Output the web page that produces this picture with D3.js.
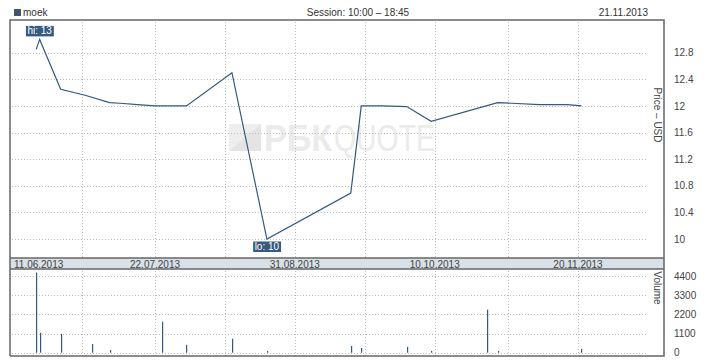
<!DOCTYPE html>
<html>
<head>
<meta charset="utf-8">
<script src="https://cdnjs.cloudflare.com/ajax/libs/d3/7.8.5/d3.min.js"></script>
<style>
  html, body { margin: 0; padding: 0; background: #fff; }
  svg { display: block; }
  text { font-family: "Liberation Sans", Arial, sans-serif; }
</style>
</head>
<body>
<svg id="chart" width="718" height="360"></svg>
<script>
// ---- data ----
const ticker = "moek";
const sessionText = "Session: 10:00 \u2013 18:45";
const dateText = "21.11.2013";

const priceDates = ["2013-06-18","2013-06-19","2013-06-25","2013-07-02","2013-07-09","2013-07-12","2013-07-17","2013-07-22","2013-07-31","2013-08-13","2013-08-23","2013-09-16","2013-09-19","2013-09-25","2013-10-02","2013-10-09","2013-10-28","2013-11-01","2013-11-09","2013-11-17","2013-11-21"];
const priceValues = [12.85,13.0,12.25,12.16,12.05,12.04,12.02,12.0,12.0,12.5,10.0,10.69,12.0,12.0,11.99,11.77,12.05,12.04,12.02,12.02,12.0];

const volumeDates = ["2013-06-18","2013-06-19","2013-06-25","2013-07-04","2013-07-09","2013-07-24","2013-07-31","2013-08-13","2013-08-23","2013-09-16","2013-09-19","2013-10-02","2013-10-09","2013-10-25","2013-10-28","2013-11-21"];
const volumeValues = [4600,1140,1080,500,150,1780,450,800,100,390,270,330,100,2470,100,210];

const gridDates = ["2013-07-01","2013-07-22","2013-08-11","2013-08-31","2013-09-20","2013-10-10","2013-10-31","2013-11-20"];
const labelDates = ["2013-06-11","2013-07-22","2013-08-31","2013-10-10","2013-11-20"];
const priceTicks = [10,10.4,10.8,11.2,11.6,12,12.4,12.8];
const volumeTicks = [0,1100,2200,3300,4400];
const hiLabel = "hi: 13";
const loLabel = "lo: 10";

// ---- setup ----
const parse = d3.utcParse("%Y-%m-%d");
const fmt = d3.utcFormat("%d.%m.%Y");
const svg = d3.select("#chart");
const C = { line: "#34587f", frame: "#666", grid: "#bdbdbd", text: "#444" };

const L = 10, R = 664, T = 20, bandTop = 258, bandBot = 269, B = 356, gridRight = 648;

const x = d3.scaleUtc().domain([parse("2013-06-11"), parse("2013-11-20")]).range([11.7, 578]);
const yP = d3.scaleLinear().domain([10, 12.8]).range([239, 52.7]);
const yV = d3.scaleLinear().domain([0, 4400]).range([352.7, 276]);

const prices = priceDates.map((d, i) => ({ date: parse(d), v: priceValues[i] }));
const vols = volumeDates.map((d, i) => ({ date: parse(d), v: volumeValues[i] }));

// header
svg.append("rect").attr("x", 14.5).attr("y", 9.5).attr("width", 6).attr("height", 6)
  .attr("fill", C.line).attr("stroke", "#555").attr("stroke-width", 1);
svg.append("text").attr("x", 23).attr("y", 16).attr("font-size", 10).attr("fill", "#333").text(ticker);
svg.append("text").attr("x", 358).attr("y", 16).attr("font-size", 10).attr("fill", "#333")
  .attr("text-anchor", "middle").text(sessionText);
svg.append("text").attr("x", 648).attr("y", 16).attr("font-size", 10).attr("fill", "#333")
  .attr("text-anchor", "end").text(dateText);

// watermark
const wm = svg.append("g").attr("fill", "#ebebeb");
wm.append("rect").attr("x", 229).attr("y", 124).attr("width", 32).attr("height", 27).attr("fill", "#eeeeee");
wm.append("path").attr("d", "M229,151 L261,124 L261,151 Z").attr("fill", "#e4e4e4");
wm.append("text").attr("x", 264).attr("y", 151).attr("font-size", 37).attr("font-weight", "bold")
  .attr("textLength", 68).attr("lengthAdjust", "spacingAndGlyphs").text("РБК");
wm.append("text").attr("x", 334).attr("y", 151).attr("font-size", 37).attr("font-family", "Roboto")
  .attr("font-weight", 100).attr("textLength", 101).attr("lengthAdjust", "spacingAndGlyphs").text("QUOTE");

// price grid
const grid = svg.append("g").attr("stroke", C.grid).attr("stroke-dasharray", "1,2").attr("stroke-width", 1);
grid.selectAll(".hp").data(priceTicks).join("line")
  .attr("x1", L + 2).attr("x2", gridRight)
  .attr("y1", d => Math.round(yP(d)) + 0.5).attr("y2", d => Math.round(yP(d)) + 0.5);
grid.selectAll(".vp").data(gridDates).join("line")
  .attr("x1", d => Math.round(x(parse(d))) + 0.5).attr("x2", d => Math.round(x(parse(d))) + 0.5)
  .attr("y1", T + 2).attr("y2", bandTop);
// volume grid
grid.selectAll(".hv").data(volumeTicks).join("line")
  .attr("x1", L + 2).attr("x2", gridRight)
  .attr("y1", d => Math.round(yV(d)) + 0.5).attr("y2", d => Math.round(yV(d)) + 0.5);
grid.selectAll(".vv").data(gridDates).join("line")
  .attr("x1", d => Math.round(x(parse(d))) + 0.5).attr("x2", d => Math.round(x(parse(d))) + 0.5)
  .attr("y1", bandBot + 2).attr("y2", B);

// date band
svg.append("rect").attr("x", L).attr("y", bandTop).attr("width", R - L).attr("height", bandBot - bandTop)
  .attr("fill", "#d8e0e8");
svg.selectAll(".dl").data(labelDates).join("text")
  .attr("x", (d, i) => i === 0 ? 14 : x(parse(d)))
  .attr("text-anchor", (d, i) => i === 0 ? "start" : "middle")
  .attr("y", 267.5).attr("font-size", 10).attr("fill", C.text)
  .text(d => fmt(parse(d)));

// frames
const fr = svg.append("g").attr("stroke", C.frame).attr("stroke-width", 1.5).attr("fill", "none");
fr.append("path").attr("d", `M${L},${B} L${L},${T} L${R},${T} L${R},${B} L${L},${B}`);
fr.append("line").attr("x1", L).attr("x2", R).attr("y1", bandTop).attr("y2", bandTop);
fr.append("line").attr("x1", L).attr("x2", R).attr("y1", bandBot).attr("y2", bandBot);

// price axis
const axP = svg.append("g").attr("transform", `translate(${R},0)`)
  .call(d3.axisRight(yP).tickValues(priceTicks).tickSize(0).tickPadding(10).tickFormat(d3.format("~g")));
axP.select(".domain").remove();
axP.selectAll("text").attr("font-size", 10).attr("fill", C.text).attr("font-family", "Liberation Sans, Arial, sans-serif");
svg.append("text").attr("transform", "translate(654,115) rotate(90)").attr("text-anchor", "middle")
  .attr("font-size", 10).attr("fill", C.text).text("Price \u2013 USD");

// volume axis
const axV = svg.append("g").attr("transform", `translate(${R},0)`)
  .call(d3.axisRight(yV).tickValues(volumeTicks).tickSize(0).tickPadding(10).tickFormat(d3.format("d")));
axV.select(".domain").remove();
axV.selectAll("text").attr("font-size", 10).attr("fill", C.text).attr("font-family", "Liberation Sans, Arial, sans-serif");
svg.append("text").attr("transform", "translate(654,288) rotate(90)").attr("text-anchor", "middle")
  .attr("font-size", 10).attr("fill", C.text).text("Volume");

// volume bars
svg.selectAll(".vb").data(vols).join("rect")
  .attr("x", d => Math.round(x(d.date))).attr("width", 1.2)
  .attr("y", d => yV(d.v)).attr("height", d => yV(0) - yV(d.v))
  .attr("fill", C.line);

// price line
svg.append("path").datum(prices)
  .attr("d", d3.line().x(d => x(d.date)).y(d => yP(d.v)))
  .attr("fill", "none").attr("stroke", C.line).attr("stroke-width", 1.2);

// hi / lo labels
const hi = prices.reduce((a, b) => b.v > a.v ? b : a);
const lo = prices.reduce((a, b) => b.v < a.v ? b : a);
function tag(p, txt, y0) {
  const g = svg.append("g");
  const t = g.append("text").attr("x", x(p.date)).attr("y", y0 + 8.5).attr("text-anchor", "middle")
    .attr("font-size", 10).attr("fill", "#fff").text(txt);
  const bb = t.node().getBBox();
  g.insert("rect", "text").attr("x", bb.x - 1.5).attr("y", y0).attr("width", bb.width + 3).attr("height", 10.5)
    .attr("fill", "#375a80");
}
tag(hi, hiLabel, yP(hi.v) - 13.5);
tag(lo, loLabel, yP(lo.v) + 2.5);
</script>
</body>
</html>
